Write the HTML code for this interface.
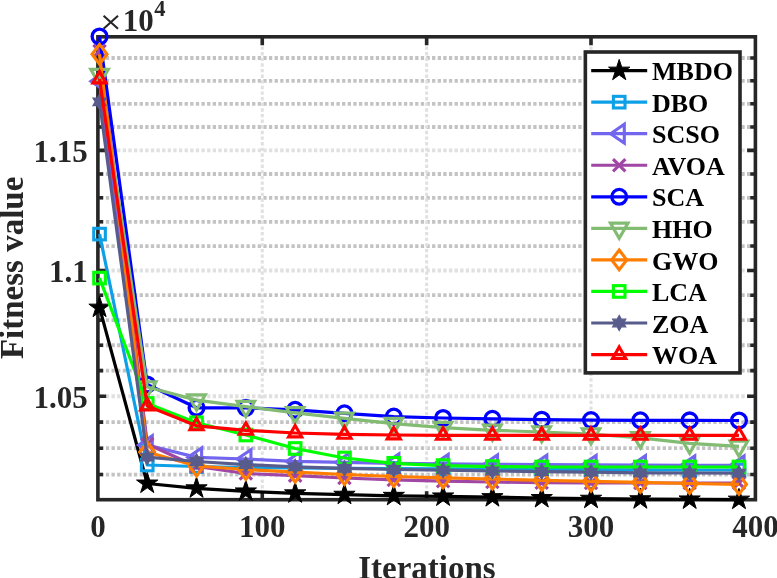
<!DOCTYPE html><html><head><meta charset="utf-8"><style>html,body{margin:0;padding:0;background:#fff;width:777px;height:578px;overflow:hidden}svg{display:block;filter:blur(0.4px)}text{font-family:"Liberation Serif",serif}</style></head><body>
<svg width="777" height="578" viewBox="0 0 777 578">
<rect width="777" height="578" fill="#fff"/>
<line x1="97.9" y1="474.56" x2="755.4" y2="474.56" stroke="#c3c3c3" stroke-width="3.8" stroke-dasharray="3.3 2.324" stroke-dashoffset="-2.34"/>
<line x1="97.9" y1="448.2" x2="755.4" y2="448.2" stroke="#c3c3c3" stroke-width="3.8" stroke-dasharray="3.3 2.324" stroke-dashoffset="-2.34"/>
<line x1="97.9" y1="422.09" x2="755.4" y2="422.09" stroke="#c3c3c3" stroke-width="3.8" stroke-dasharray="3.3 2.324" stroke-dashoffset="-2.34"/>
<line x1="97.9" y1="396.23" x2="755.4" y2="396.23" stroke="#e0e0e0" stroke-width="3.8" stroke-dasharray="3.3 2.324" stroke-dashoffset="-2.34"/>
<line x1="97.9" y1="370.61" x2="755.4" y2="370.61" stroke="#c3c3c3" stroke-width="3.8" stroke-dasharray="3.3 2.324" stroke-dashoffset="-2.34"/>
<line x1="97.9" y1="345.24" x2="755.4" y2="345.24" stroke="#c3c3c3" stroke-width="3.8" stroke-dasharray="3.3 2.324" stroke-dashoffset="-2.34"/>
<line x1="97.9" y1="320.1" x2="755.4" y2="320.1" stroke="#c3c3c3" stroke-width="3.8" stroke-dasharray="3.3 2.324" stroke-dashoffset="-2.34"/>
<line x1="97.9" y1="295.19" x2="755.4" y2="295.19" stroke="#c3c3c3" stroke-width="3.8" stroke-dasharray="3.3 2.324" stroke-dashoffset="-2.34"/>
<line x1="97.9" y1="270.51" x2="755.4" y2="270.51" stroke="#e0e0e0" stroke-width="3.8" stroke-dasharray="3.3 2.324" stroke-dashoffset="-2.34"/>
<line x1="97.9" y1="246.06" x2="755.4" y2="246.06" stroke="#c3c3c3" stroke-width="3.8" stroke-dasharray="3.3 2.324" stroke-dashoffset="-2.34"/>
<line x1="97.9" y1="221.82" x2="755.4" y2="221.82" stroke="#c3c3c3" stroke-width="3.8" stroke-dasharray="3.3 2.324" stroke-dashoffset="-2.34"/>
<line x1="97.9" y1="197.8" x2="755.4" y2="197.8" stroke="#c3c3c3" stroke-width="3.8" stroke-dasharray="3.3 2.324" stroke-dashoffset="-2.34"/>
<line x1="97.9" y1="173.99" x2="755.4" y2="173.99" stroke="#c3c3c3" stroke-width="3.8" stroke-dasharray="3.3 2.324" stroke-dashoffset="-2.34"/>
<line x1="97.9" y1="150.39" x2="755.4" y2="150.39" stroke="#e0e0e0" stroke-width="3.8" stroke-dasharray="3.3 2.324" stroke-dashoffset="-2.34"/>
<line x1="97.9" y1="126.99" x2="755.4" y2="126.99" stroke="#c3c3c3" stroke-width="3.8" stroke-dasharray="3.3 2.324" stroke-dashoffset="-2.34"/>
<line x1="97.9" y1="103.79" x2="755.4" y2="103.79" stroke="#c3c3c3" stroke-width="3.8" stroke-dasharray="3.3 2.324" stroke-dashoffset="-2.34"/>
<line x1="97.9" y1="80.79" x2="755.4" y2="80.79" stroke="#c3c3c3" stroke-width="3.8" stroke-dasharray="3.3 2.324" stroke-dashoffset="-2.34"/>
<line x1="97.9" y1="57.99" x2="755.4" y2="57.99" stroke="#c3c3c3" stroke-width="3.8" stroke-dasharray="3.3 2.324" stroke-dashoffset="-2.34"/>
<line x1="262.27" y1="499.7" x2="262.27" y2="36.8" stroke="#e0e0e0" stroke-width="3.0" stroke-dasharray="3.3 2.324"/>
<line x1="426.65" y1="499.7" x2="426.65" y2="36.8" stroke="#e0e0e0" stroke-width="3.0" stroke-dasharray="3.3 2.324"/>
<line x1="591.02" y1="499.7" x2="591.02" y2="36.8" stroke="#e0e0e0" stroke-width="3.0" stroke-dasharray="3.3 2.324"/>
<rect x="97.9" y="36.8" width="657.5" height="462.9" fill="none" stroke="#262626" stroke-width="3.6"/>
<path d="M262.27 499.7v-8.4M262.27 36.8v8.4M426.65 499.7v-8.4M426.65 36.8v8.4M591.02 499.7v-8.4M591.02 36.8v8.4M97.9 474.56h5.2M755.4 474.56h-5.2M97.9 448.2h5.2M755.4 448.2h-5.2M97.9 422.09h5.2M755.4 422.09h-5.2M97.9 396.23h8.3M755.4 396.23h-8.3M97.9 370.61h5.2M755.4 370.61h-5.2M97.9 345.24h5.2M755.4 345.24h-5.2M97.9 320.1h5.2M755.4 320.1h-5.2M97.9 295.19h5.2M755.4 295.19h-5.2M97.9 270.51h8.3M755.4 270.51h-8.3M97.9 246.06h5.2M755.4 246.06h-5.2M97.9 221.82h5.2M755.4 221.82h-5.2M97.9 197.8h5.2M755.4 197.8h-5.2M97.9 173.99h5.2M755.4 173.99h-5.2M97.9 150.39h8.3M755.4 150.39h-8.3M97.9 126.99h5.2M755.4 126.99h-5.2M97.9 103.79h5.2M755.4 103.79h-5.2M97.9 80.79h5.2M755.4 80.79h-5.2M97.9 57.99h5.2M755.4 57.99h-5.2" stroke="#262626" stroke-width="3.6" fill="none"/>
<polyline points="99.54,307.6 147.21,483.5 196.53,488.3 245.84,491.4 295.15,493.3 344.46,494.7 393.77,495.8 443.09,496.4 492.4,497.1 541.71,498 591.02,498.7 640.34,499.2 689.65,499.4 738.96,499.6" fill="none" stroke="#000000" stroke-width="3.2" stroke-linejoin="round"/>
<polygon points="99.54,296.4 102.06,304.14 110.2,304.14 103.61,308.92 106.13,316.66 99.54,311.88 92.96,316.66 95.47,308.92 88.89,304.14 97.03,304.14" fill="#000000" stroke="#000000" stroke-width="1" stroke-linejoin="miter"/>
<polygon points="147.21,472.3 149.73,480.04 157.86,480.04 151.28,484.82 153.8,492.56 147.21,487.78 140.63,492.56 143.14,484.82 136.56,480.04 144.7,480.04" fill="#000000" stroke="#000000" stroke-width="1" stroke-linejoin="miter"/>
<polygon points="196.53,477.1 199.04,484.84 207.18,484.84 200.59,489.62 203.11,497.36 196.53,492.58 189.94,497.36 192.46,489.62 185.87,484.84 194.01,484.84" fill="#000000" stroke="#000000" stroke-width="1" stroke-linejoin="miter"/>
<polygon points="245.84,480.2 248.35,487.94 256.49,487.94 249.91,492.72 252.42,500.46 245.84,495.68 239.25,500.46 241.77,492.72 235.19,487.94 243.32,487.94" fill="#000000" stroke="#000000" stroke-width="1" stroke-linejoin="miter"/>
<polygon points="295.15,482.1 297.66,489.84 305.8,489.84 299.22,494.62 301.73,502.36 295.15,497.58 288.57,502.36 291.08,494.62 284.5,489.84 292.64,489.84" fill="#000000" stroke="#000000" stroke-width="1" stroke-linejoin="miter"/>
<polygon points="344.46,483.5 346.98,491.24 355.11,491.24 348.53,496.02 351.05,503.76 344.46,498.98 337.88,503.76 340.39,496.02 333.81,491.24 341.95,491.24" fill="#000000" stroke="#000000" stroke-width="1" stroke-linejoin="miter"/>
<polygon points="393.77,484.6 396.29,492.34 404.43,492.34 397.84,497.12 400.36,504.86 393.77,500.08 387.19,504.86 389.71,497.12 383.12,492.34 391.26,492.34" fill="#000000" stroke="#000000" stroke-width="1" stroke-linejoin="miter"/>
<polygon points="443.09,485.2 445.6,492.94 453.74,492.94 447.16,497.72 449.67,505.46 443.09,500.68 436.5,505.46 439.02,497.72 432.44,492.94 440.57,492.94" fill="#000000" stroke="#000000" stroke-width="1" stroke-linejoin="miter"/>
<polygon points="492.4,485.9 494.91,493.64 503.05,493.64 496.47,498.42 498.98,506.16 492.4,501.38 485.82,506.16 488.33,498.42 481.75,493.64 489.89,493.64" fill="#000000" stroke="#000000" stroke-width="1" stroke-linejoin="miter"/>
<polygon points="541.71,486.8 544.23,494.54 552.36,494.54 545.78,499.32 548.3,507.06 541.71,502.28 535.13,507.06 537.64,499.32 531.06,494.54 539.2,494.54" fill="#000000" stroke="#000000" stroke-width="1" stroke-linejoin="miter"/>
<polygon points="591.02,487.5 593.54,495.24 601.68,495.24 595.09,500.02 597.61,507.76 591.02,502.98 584.44,507.76 586.96,500.02 580.37,495.24 588.51,495.24" fill="#000000" stroke="#000000" stroke-width="1" stroke-linejoin="miter"/>
<polygon points="640.34,488 642.85,495.74 650.99,495.74 644.41,500.52 646.92,508.26 640.34,503.48 633.75,508.26 636.27,500.52 629.69,495.74 637.82,495.74" fill="#000000" stroke="#000000" stroke-width="1" stroke-linejoin="miter"/>
<polygon points="689.65,488.2 692.16,495.94 700.3,495.94 693.72,500.72 696.23,508.46 689.65,503.68 683.07,508.46 685.58,500.72 679,495.94 687.14,495.94" fill="#000000" stroke="#000000" stroke-width="1" stroke-linejoin="miter"/>
<polygon points="738.96,488.4 741.48,496.14 749.61,496.14 743.03,500.92 745.55,508.66 738.96,503.88 732.38,508.66 734.89,500.92 728.31,496.14 736.45,496.14" fill="#000000" stroke="#000000" stroke-width="1" stroke-linejoin="miter"/>
<polyline points="99.54,234.1 147.21,465 196.53,466.5 245.84,467.5 295.15,468 344.46,468.3 393.77,468.5 443.09,468.8 492.4,469 541.71,469.3 591.02,469.6 640.34,469.8 689.65,470 738.96,470" fill="none" stroke="#0ea0e6" stroke-width="3.2" stroke-linejoin="round"/>
<rect x="93.74" y="228.3" width="11.6" height="11.6" fill="none" stroke="#0ea0e6" stroke-width="3.1"/>
<rect x="141.41" y="459.2" width="11.6" height="11.6" fill="none" stroke="#0ea0e6" stroke-width="3.1"/>
<rect x="190.72" y="460.7" width="11.6" height="11.6" fill="none" stroke="#0ea0e6" stroke-width="3.1"/>
<rect x="240.04" y="461.7" width="11.6" height="11.6" fill="none" stroke="#0ea0e6" stroke-width="3.1"/>
<rect x="289.35" y="462.2" width="11.6" height="11.6" fill="none" stroke="#0ea0e6" stroke-width="3.1"/>
<rect x="338.66" y="462.5" width="11.6" height="11.6" fill="none" stroke="#0ea0e6" stroke-width="3.1"/>
<rect x="387.97" y="462.7" width="11.6" height="11.6" fill="none" stroke="#0ea0e6" stroke-width="3.1"/>
<rect x="437.29" y="463" width="11.6" height="11.6" fill="none" stroke="#0ea0e6" stroke-width="3.1"/>
<rect x="486.6" y="463.2" width="11.6" height="11.6" fill="none" stroke="#0ea0e6" stroke-width="3.1"/>
<rect x="535.91" y="463.5" width="11.6" height="11.6" fill="none" stroke="#0ea0e6" stroke-width="3.1"/>
<rect x="585.23" y="463.8" width="11.6" height="11.6" fill="none" stroke="#0ea0e6" stroke-width="3.1"/>
<rect x="634.54" y="464" width="11.6" height="11.6" fill="none" stroke="#0ea0e6" stroke-width="3.1"/>
<rect x="683.85" y="464.2" width="11.6" height="11.6" fill="none" stroke="#0ea0e6" stroke-width="3.1"/>
<rect x="733.16" y="464.2" width="11.6" height="11.6" fill="none" stroke="#0ea0e6" stroke-width="3.1"/>
<polyline points="99.54,81.2 147.21,445 196.53,457.4 245.84,459 295.15,461.4 344.46,462.4 393.77,463.4 443.09,463.9 492.4,464.3 541.71,464.6 591.02,464.9 640.34,465.1 689.65,465.3 738.96,465.4" fill="none" stroke="#7366ee" stroke-width="3.2" stroke-linejoin="round"/>
<polygon points="90.94,81.2 104.64,71.8 104.64,90.6" fill="none" stroke="#7366ee" stroke-width="3.1" stroke-linejoin="miter"/>
<polygon points="138.61,445 152.31,435.6 152.31,454.4" fill="none" stroke="#7366ee" stroke-width="3.1" stroke-linejoin="miter"/>
<polygon points="187.93,457.4 201.62,448 201.62,466.8" fill="none" stroke="#7366ee" stroke-width="3.1" stroke-linejoin="miter"/>
<polygon points="237.24,459 250.94,449.6 250.94,468.4" fill="none" stroke="#7366ee" stroke-width="3.1" stroke-linejoin="miter"/>
<polygon points="286.55,461.4 300.25,452 300.25,470.8" fill="none" stroke="#7366ee" stroke-width="3.1" stroke-linejoin="miter"/>
<polygon points="335.86,462.4 349.56,453 349.56,471.8" fill="none" stroke="#7366ee" stroke-width="3.1" stroke-linejoin="miter"/>
<polygon points="385.17,463.4 398.88,454 398.88,472.8" fill="none" stroke="#7366ee" stroke-width="3.1" stroke-linejoin="miter"/>
<polygon points="434.49,463.9 448.19,454.5 448.19,473.3" fill="none" stroke="#7366ee" stroke-width="3.1" stroke-linejoin="miter"/>
<polygon points="483.8,464.3 497.5,454.9 497.5,473.7" fill="none" stroke="#7366ee" stroke-width="3.1" stroke-linejoin="miter"/>
<polygon points="533.11,464.6 546.81,455.2 546.81,474" fill="none" stroke="#7366ee" stroke-width="3.1" stroke-linejoin="miter"/>
<polygon points="582.42,464.9 596.12,455.5 596.12,474.3" fill="none" stroke="#7366ee" stroke-width="3.1" stroke-linejoin="miter"/>
<polygon points="631.74,465.1 645.44,455.7 645.44,474.5" fill="none" stroke="#7366ee" stroke-width="3.1" stroke-linejoin="miter"/>
<polygon points="681.05,465.3 694.75,455.9 694.75,474.7" fill="none" stroke="#7366ee" stroke-width="3.1" stroke-linejoin="miter"/>
<polygon points="730.36,465.4 744.06,456 744.06,474.8" fill="none" stroke="#7366ee" stroke-width="3.1" stroke-linejoin="miter"/>
<polyline points="99.54,51 147.21,444 196.53,466.5 245.84,473.5 295.15,475.6 344.46,478 393.77,479.9 443.09,481.2 492.4,482 541.71,482.7 591.02,483 640.34,483 689.65,483 738.96,483" fill="none" stroke="#a046a5" stroke-width="3.2" stroke-linejoin="round"/>
<path d="M94.44 45.9L104.64 56.1M94.44 56.1L104.64 45.9" stroke="#a046a5" stroke-width="3.1" stroke-linecap="square"/>
<path d="M142.11 438.9L152.31 449.1M142.11 449.1L152.31 438.9" stroke="#a046a5" stroke-width="3.1" stroke-linecap="square"/>
<path d="M191.43 461.4L201.62 471.6M191.43 471.6L201.62 461.4" stroke="#a046a5" stroke-width="3.1" stroke-linecap="square"/>
<path d="M240.74 468.4L250.94 478.6M240.74 478.6L250.94 468.4" stroke="#a046a5" stroke-width="3.1" stroke-linecap="square"/>
<path d="M290.05 470.5L300.25 480.7M290.05 480.7L300.25 470.5" stroke="#a046a5" stroke-width="3.1" stroke-linecap="square"/>
<path d="M339.36 472.9L349.56 483.1M339.36 483.1L349.56 472.9" stroke="#a046a5" stroke-width="3.1" stroke-linecap="square"/>
<path d="M388.67 474.8L398.88 485M388.67 485L398.88 474.8" stroke="#a046a5" stroke-width="3.1" stroke-linecap="square"/>
<path d="M437.99 476.1L448.19 486.3M437.99 486.3L448.19 476.1" stroke="#a046a5" stroke-width="3.1" stroke-linecap="square"/>
<path d="M487.3 476.9L497.5 487.1M487.3 487.1L497.5 476.9" stroke="#a046a5" stroke-width="3.1" stroke-linecap="square"/>
<path d="M536.61 477.6L546.81 487.8M536.61 487.8L546.81 477.6" stroke="#a046a5" stroke-width="3.1" stroke-linecap="square"/>
<path d="M585.92 477.9L596.12 488.1M585.92 488.1L596.12 477.9" stroke="#a046a5" stroke-width="3.1" stroke-linecap="square"/>
<path d="M635.24 477.9L645.44 488.1M635.24 488.1L645.44 477.9" stroke="#a046a5" stroke-width="3.1" stroke-linecap="square"/>
<path d="M684.55 477.9L694.75 488.1M684.55 488.1L694.75 477.9" stroke="#a046a5" stroke-width="3.1" stroke-linecap="square"/>
<path d="M733.86 477.9L744.06 488.1M733.86 488.1L744.06 477.9" stroke="#a046a5" stroke-width="3.1" stroke-linecap="square"/>
<polyline points="99.54,36.5 147.21,384.5 196.53,407.8 245.84,407.9 295.15,409.8 344.46,413.3 393.77,416.6 443.09,418 492.4,418.8 541.71,419.7 591.02,420.1 640.34,420.3 689.65,420.4 738.96,420.5" fill="none" stroke="#0000ff" stroke-width="3.2" stroke-linejoin="round"/>
<circle cx="99.54" cy="36.5" r="7.4" fill="none" stroke="#0000ff" stroke-width="3.3"/>
<circle cx="147.21" cy="384.5" r="7.4" fill="none" stroke="#0000ff" stroke-width="3.3"/>
<circle cx="196.53" cy="407.8" r="7.4" fill="none" stroke="#0000ff" stroke-width="3.3"/>
<circle cx="245.84" cy="407.9" r="7.4" fill="none" stroke="#0000ff" stroke-width="3.3"/>
<circle cx="295.15" cy="409.8" r="7.4" fill="none" stroke="#0000ff" stroke-width="3.3"/>
<circle cx="344.46" cy="413.3" r="7.4" fill="none" stroke="#0000ff" stroke-width="3.3"/>
<circle cx="393.77" cy="416.6" r="7.4" fill="none" stroke="#0000ff" stroke-width="3.3"/>
<circle cx="443.09" cy="418" r="7.4" fill="none" stroke="#0000ff" stroke-width="3.3"/>
<circle cx="492.4" cy="418.8" r="7.4" fill="none" stroke="#0000ff" stroke-width="3.3"/>
<circle cx="541.71" cy="419.7" r="7.4" fill="none" stroke="#0000ff" stroke-width="3.3"/>
<circle cx="591.02" cy="420.1" r="7.4" fill="none" stroke="#0000ff" stroke-width="3.3"/>
<circle cx="640.34" cy="420.3" r="7.4" fill="none" stroke="#0000ff" stroke-width="3.3"/>
<circle cx="689.65" cy="420.4" r="7.4" fill="none" stroke="#0000ff" stroke-width="3.3"/>
<circle cx="738.96" cy="420.5" r="7.4" fill="none" stroke="#0000ff" stroke-width="3.3"/>
<polyline points="99.54,74.6 147.21,387 196.53,400.1 245.84,406.6 295.15,412.8 344.46,418.3 393.77,423.6 443.09,427.6 492.4,430.3 541.71,432 591.02,434 640.34,437.8 689.65,443.3 738.96,446.3" fill="none" stroke="#82bb72" stroke-width="3.2" stroke-linejoin="round"/>
<polygon points="90.74,69.4 108.34,69.4 99.54,84.6" fill="none" stroke="#82bb72" stroke-width="3.1" stroke-linejoin="miter"/>
<polygon points="138.41,381.8 156.01,381.8 147.21,397" fill="none" stroke="#82bb72" stroke-width="3.1" stroke-linejoin="miter"/>
<polygon points="187.72,394.9 205.33,394.9 196.53,410.1" fill="none" stroke="#82bb72" stroke-width="3.1" stroke-linejoin="miter"/>
<polygon points="237.04,401.4 254.64,401.4 245.84,416.6" fill="none" stroke="#82bb72" stroke-width="3.1" stroke-linejoin="miter"/>
<polygon points="286.35,407.6 303.95,407.6 295.15,422.8" fill="none" stroke="#82bb72" stroke-width="3.1" stroke-linejoin="miter"/>
<polygon points="335.66,413.1 353.26,413.1 344.46,428.3" fill="none" stroke="#82bb72" stroke-width="3.1" stroke-linejoin="miter"/>
<polygon points="384.97,418.4 402.57,418.4 393.77,433.6" fill="none" stroke="#82bb72" stroke-width="3.1" stroke-linejoin="miter"/>
<polygon points="434.29,422.4 451.89,422.4 443.09,437.6" fill="none" stroke="#82bb72" stroke-width="3.1" stroke-linejoin="miter"/>
<polygon points="483.6,425.1 501.2,425.1 492.4,440.3" fill="none" stroke="#82bb72" stroke-width="3.1" stroke-linejoin="miter"/>
<polygon points="532.91,426.8 550.51,426.8 541.71,442" fill="none" stroke="#82bb72" stroke-width="3.1" stroke-linejoin="miter"/>
<polygon points="582.23,428.8 599.82,428.8 591.02,444" fill="none" stroke="#82bb72" stroke-width="3.1" stroke-linejoin="miter"/>
<polygon points="631.54,432.6 649.14,432.6 640.34,447.8" fill="none" stroke="#82bb72" stroke-width="3.1" stroke-linejoin="miter"/>
<polygon points="680.85,438.1 698.45,438.1 689.65,453.3" fill="none" stroke="#82bb72" stroke-width="3.1" stroke-linejoin="miter"/>
<polygon points="730.16,441.1 747.76,441.1 738.96,456.3" fill="none" stroke="#82bb72" stroke-width="3.1" stroke-linejoin="miter"/>
<polyline points="99.54,54.3 147.21,452 196.53,466 245.84,469.5 295.15,472.2 344.46,474.5 393.77,476.5 443.09,477.8 492.4,479 541.71,480.3 591.02,481.3 640.34,482.4 689.65,483.5 738.96,484.3" fill="none" stroke="#ff7d00" stroke-width="3.2" stroke-linejoin="round"/>
<polygon points="99.54,44.4 107.04,54.3 99.54,64.2 92.04,54.3" fill="none" stroke="#ff7d00" stroke-width="3.1" stroke-linejoin="miter"/>
<polygon points="147.21,442.1 154.71,452 147.21,461.9 139.71,452" fill="none" stroke="#ff7d00" stroke-width="3.1" stroke-linejoin="miter"/>
<polygon points="196.53,456.1 204.03,466 196.53,475.9 189.03,466" fill="none" stroke="#ff7d00" stroke-width="3.1" stroke-linejoin="miter"/>
<polygon points="245.84,459.6 253.34,469.5 245.84,479.4 238.34,469.5" fill="none" stroke="#ff7d00" stroke-width="3.1" stroke-linejoin="miter"/>
<polygon points="295.15,462.3 302.65,472.2 295.15,482.1 287.65,472.2" fill="none" stroke="#ff7d00" stroke-width="3.1" stroke-linejoin="miter"/>
<polygon points="344.46,464.6 351.96,474.5 344.46,484.4 336.96,474.5" fill="none" stroke="#ff7d00" stroke-width="3.1" stroke-linejoin="miter"/>
<polygon points="393.77,466.6 401.27,476.5 393.77,486.4 386.27,476.5" fill="none" stroke="#ff7d00" stroke-width="3.1" stroke-linejoin="miter"/>
<polygon points="443.09,467.9 450.59,477.8 443.09,487.7 435.59,477.8" fill="none" stroke="#ff7d00" stroke-width="3.1" stroke-linejoin="miter"/>
<polygon points="492.4,469.1 499.9,479 492.4,488.9 484.9,479" fill="none" stroke="#ff7d00" stroke-width="3.1" stroke-linejoin="miter"/>
<polygon points="541.71,470.4 549.21,480.3 541.71,490.2 534.21,480.3" fill="none" stroke="#ff7d00" stroke-width="3.1" stroke-linejoin="miter"/>
<polygon points="591.02,471.4 598.52,481.3 591.02,491.2 583.52,481.3" fill="none" stroke="#ff7d00" stroke-width="3.1" stroke-linejoin="miter"/>
<polygon points="640.34,472.5 647.84,482.4 640.34,492.3 632.84,482.4" fill="none" stroke="#ff7d00" stroke-width="3.1" stroke-linejoin="miter"/>
<polygon points="689.65,473.6 697.15,483.5 689.65,493.4 682.15,483.5" fill="none" stroke="#ff7d00" stroke-width="3.1" stroke-linejoin="miter"/>
<polygon points="738.96,474.4 746.46,484.3 738.96,494.2 731.46,484.3" fill="none" stroke="#ff7d00" stroke-width="3.1" stroke-linejoin="miter"/>
<polyline points="99.54,278.1 147.21,403.5 196.53,422.8 245.84,435 295.15,448.5 344.46,458 393.77,463.3 443.09,465.6 492.4,466.6 541.71,467 591.02,467 640.34,467 689.65,467 738.96,467" fill="none" stroke="#00ff00" stroke-width="3.2" stroke-linejoin="round"/>
<rect x="93.74" y="272.3" width="11.6" height="11.6" fill="none" stroke="#00ff00" stroke-width="3.1"/>
<rect x="141.41" y="397.7" width="11.6" height="11.6" fill="none" stroke="#00ff00" stroke-width="3.1"/>
<rect x="190.72" y="417" width="11.6" height="11.6" fill="none" stroke="#00ff00" stroke-width="3.1"/>
<rect x="240.04" y="429.2" width="11.6" height="11.6" fill="none" stroke="#00ff00" stroke-width="3.1"/>
<rect x="289.35" y="442.7" width="11.6" height="11.6" fill="none" stroke="#00ff00" stroke-width="3.1"/>
<rect x="338.66" y="452.2" width="11.6" height="11.6" fill="none" stroke="#00ff00" stroke-width="3.1"/>
<rect x="387.97" y="457.5" width="11.6" height="11.6" fill="none" stroke="#00ff00" stroke-width="3.1"/>
<rect x="437.29" y="459.8" width="11.6" height="11.6" fill="none" stroke="#00ff00" stroke-width="3.1"/>
<rect x="486.6" y="460.8" width="11.6" height="11.6" fill="none" stroke="#00ff00" stroke-width="3.1"/>
<rect x="535.91" y="461.2" width="11.6" height="11.6" fill="none" stroke="#00ff00" stroke-width="3.1"/>
<rect x="585.23" y="461.2" width="11.6" height="11.6" fill="none" stroke="#00ff00" stroke-width="3.1"/>
<rect x="634.54" y="461.2" width="11.6" height="11.6" fill="none" stroke="#00ff00" stroke-width="3.1"/>
<rect x="683.85" y="461.2" width="11.6" height="11.6" fill="none" stroke="#00ff00" stroke-width="3.1"/>
<rect x="733.16" y="461.2" width="11.6" height="11.6" fill="none" stroke="#00ff00" stroke-width="3.1"/>
<polyline points="99.54,101.8 147.21,457.2 196.53,461.5 245.84,464.6 295.15,466.8 344.46,468.4 393.77,469.5 443.09,470.2 492.4,471 541.71,471.6 591.02,472.2 640.34,472.8 689.65,473 738.96,473.1" fill="none" stroke="#585c8c" stroke-width="3.2" stroke-linejoin="round"/>
<polygon points="99.54,94.2 101.74,98 106.13,98 103.93,101.8 106.13,105.6 101.74,105.6 99.54,109.4 97.35,105.6 92.96,105.6 95.16,101.8 92.96,98 97.35,98" fill="#585c8c" stroke="#585c8c" stroke-width="1.2"/>
<polygon points="147.21,449.6 149.41,453.4 153.79,453.4 151.6,457.2 153.79,461 149.41,461 147.21,464.8 145.02,461 140.63,461 142.82,457.2 140.63,453.4 145.02,453.4" fill="#585c8c" stroke="#585c8c" stroke-width="1.2"/>
<polygon points="196.53,453.9 198.72,457.7 203.11,457.7 200.91,461.5 203.11,465.3 198.72,465.3 196.53,469.1 194.33,465.3 189.94,465.3 192.14,461.5 189.94,457.7 194.33,457.7" fill="#585c8c" stroke="#585c8c" stroke-width="1.2"/>
<polygon points="245.84,457 248.03,460.8 252.42,460.8 250.23,464.6 252.42,468.4 248.03,468.4 245.84,472.2 243.64,468.4 239.26,468.4 241.45,464.6 239.26,460.8 243.64,460.8" fill="#585c8c" stroke="#585c8c" stroke-width="1.2"/>
<polygon points="295.15,459.2 297.34,463 301.73,463 299.54,466.8 301.73,470.6 297.34,470.6 295.15,474.4 292.96,470.6 288.57,470.6 290.76,466.8 288.57,463 292.96,463" fill="#585c8c" stroke="#585c8c" stroke-width="1.2"/>
<polygon points="344.46,460.8 346.66,464.6 351.04,464.6 348.85,468.4 351.04,472.2 346.66,472.2 344.46,476 342.27,472.2 337.88,472.2 340.07,468.4 337.88,464.6 342.27,464.6" fill="#585c8c" stroke="#585c8c" stroke-width="1.2"/>
<polygon points="393.77,461.9 395.97,465.7 400.36,465.7 398.16,469.5 400.36,473.3 395.97,473.3 393.77,477.1 391.58,473.3 387.19,473.3 389.39,469.5 387.19,465.7 391.58,465.7" fill="#585c8c" stroke="#585c8c" stroke-width="1.2"/>
<polygon points="443.09,462.6 445.28,466.4 449.67,466.4 447.48,470.2 449.67,474 445.28,474 443.09,477.8 440.89,474 436.51,474 438.7,470.2 436.51,466.4 440.89,466.4" fill="#585c8c" stroke="#585c8c" stroke-width="1.2"/>
<polygon points="492.4,463.4 494.59,467.2 498.98,467.2 496.79,471 498.98,474.8 494.59,474.8 492.4,478.6 490.21,474.8 485.82,474.8 488.01,471 485.82,467.2 490.21,467.2" fill="#585c8c" stroke="#585c8c" stroke-width="1.2"/>
<polygon points="541.71,464 543.91,467.8 548.29,467.8 546.1,471.6 548.29,475.4 543.91,475.4 541.71,479.2 539.52,475.4 535.13,475.4 537.32,471.6 535.13,467.8 539.52,467.8" fill="#585c8c" stroke="#585c8c" stroke-width="1.2"/>
<polygon points="591.02,464.6 593.22,468.4 597.61,468.4 595.41,472.2 597.61,476 593.22,476 591.02,479.8 588.83,476 584.44,476 586.64,472.2 584.44,468.4 588.83,468.4" fill="#585c8c" stroke="#585c8c" stroke-width="1.2"/>
<polygon points="640.34,465.2 642.53,469 646.92,469 644.73,472.8 646.92,476.6 642.53,476.6 640.34,480.4 638.14,476.6 633.76,476.6 635.95,472.8 633.76,469 638.14,469" fill="#585c8c" stroke="#585c8c" stroke-width="1.2"/>
<polygon points="689.65,465.4 691.84,469.2 696.23,469.2 694.04,473 696.23,476.8 691.84,476.8 689.65,480.6 687.46,476.8 683.07,476.8 685.26,473 683.07,469.2 687.46,469.2" fill="#585c8c" stroke="#585c8c" stroke-width="1.2"/>
<polygon points="738.96,465.5 741.16,469.3 745.54,469.3 743.35,473.1 745.54,476.9 741.16,476.9 738.96,480.7 736.77,476.9 732.38,476.9 734.57,473.1 732.38,469.3 736.77,469.3" fill="#585c8c" stroke="#585c8c" stroke-width="1.2"/>
<polyline points="99.54,79 147.21,406 196.53,425.8 245.84,430.4 295.15,433 344.46,434.3 393.77,435 443.09,435.3 492.4,435.4 541.71,435.4 591.02,435.4 640.34,435.4 689.65,435.4 738.96,435.4" fill="none" stroke="#ff0000" stroke-width="3.2" stroke-linejoin="round"/>
<polygon points="99.54,71.4 106.14,82.9 92.94,82.9" fill="none" stroke="#ff0000" stroke-width="3.1" stroke-linejoin="miter"/>
<polygon points="147.21,398.4 153.81,409.9 140.61,409.9" fill="none" stroke="#ff0000" stroke-width="3.1" stroke-linejoin="miter"/>
<polygon points="196.53,418.2 203.12,429.7 189.93,429.7" fill="none" stroke="#ff0000" stroke-width="3.1" stroke-linejoin="miter"/>
<polygon points="245.84,422.8 252.44,434.3 239.24,434.3" fill="none" stroke="#ff0000" stroke-width="3.1" stroke-linejoin="miter"/>
<polygon points="295.15,425.4 301.75,436.9 288.55,436.9" fill="none" stroke="#ff0000" stroke-width="3.1" stroke-linejoin="miter"/>
<polygon points="344.46,426.7 351.06,438.2 337.86,438.2" fill="none" stroke="#ff0000" stroke-width="3.1" stroke-linejoin="miter"/>
<polygon points="393.77,427.4 400.38,438.9 387.17,438.9" fill="none" stroke="#ff0000" stroke-width="3.1" stroke-linejoin="miter"/>
<polygon points="443.09,427.7 449.69,439.2 436.49,439.2" fill="none" stroke="#ff0000" stroke-width="3.1" stroke-linejoin="miter"/>
<polygon points="492.4,427.8 499,439.3 485.8,439.3" fill="none" stroke="#ff0000" stroke-width="3.1" stroke-linejoin="miter"/>
<polygon points="541.71,427.8 548.31,439.3 535.11,439.3" fill="none" stroke="#ff0000" stroke-width="3.1" stroke-linejoin="miter"/>
<polygon points="591.02,427.8 597.62,439.3 584.42,439.3" fill="none" stroke="#ff0000" stroke-width="3.1" stroke-linejoin="miter"/>
<polygon points="640.34,427.8 646.94,439.3 633.74,439.3" fill="none" stroke="#ff0000" stroke-width="3.1" stroke-linejoin="miter"/>
<polygon points="689.65,427.8 696.25,439.3 683.05,439.3" fill="none" stroke="#ff0000" stroke-width="3.1" stroke-linejoin="miter"/>
<polygon points="738.96,427.8 745.56,439.3 732.36,439.3" fill="none" stroke="#ff0000" stroke-width="3.1" stroke-linejoin="miter"/>
<text x="87.8" y="407.73" font-size="31" font-weight="bold" fill="#262626" text-anchor="end">1.05</text>
<text x="87.8" y="282.01" font-size="31" font-weight="bold" fill="#262626" text-anchor="end">1.1</text>
<text x="87.8" y="161.89" font-size="31" font-weight="bold" fill="#262626" text-anchor="end">1.15</text>
<text x="97.9" y="537.4" font-size="31" font-weight="bold" fill="#262626" text-anchor="middle">0</text>
<text x="262.27" y="537.4" font-size="31" font-weight="bold" fill="#262626" text-anchor="middle">100</text>
<text x="426.65" y="537.4" font-size="31" font-weight="bold" fill="#262626" text-anchor="middle">200</text>
<text x="591.02" y="537.4" font-size="31" font-weight="bold" fill="#262626" text-anchor="middle">300</text>
<text x="755.4" y="537.4" font-size="31" font-weight="bold" fill="#262626" text-anchor="middle">400</text>
<path d="M103.6 15.8L118 28.8M118 15.8L103.6 28.8" stroke="#262626" stroke-width="2.1" fill="none"/>
<text x="122.8" y="30.6" font-size="31" font-weight="bold" fill="#262626">10</text>
<text x="154.3" y="16" font-size="22.5" font-weight="bold" fill="#262626">4</text>
<text x="426.9" y="578.9" font-size="33" font-weight="bold" fill="#262626" text-anchor="middle">Iterations</text>
<text transform="translate(22.6,267.9) rotate(-90)" x="0" y="0" font-size="33" font-weight="bold" fill="#262626" text-anchor="middle">Fitness value</text>
<rect x="585.35" y="52" width="154.65" height="320.9" fill="#fff" stroke="#262626" stroke-width="3.6"/>
<line x1="591.2" y1="70.6" x2="647.2" y2="70.6" stroke="#000000" stroke-width="3.2"/>
<polygon points="619.2,59.4 621.71,67.14 629.85,67.14 623.27,71.92 625.78,79.66 619.2,74.88 612.62,79.66 615.13,71.92 608.55,67.14 616.69,67.14" fill="#000000" stroke="#000000" stroke-width="1" stroke-linejoin="miter"/>
<text x="652" y="80.2" font-size="26" font-weight="bold" fill="#000">MBDO</text>
<line x1="591.2" y1="102.15" x2="647.2" y2="102.15" stroke="#0ea0e6" stroke-width="3.2"/>
<rect x="613.4" y="96.35" width="11.6" height="11.6" fill="none" stroke="#0ea0e6" stroke-width="3.1"/>
<text x="652" y="111.75" font-size="26" font-weight="bold" fill="#000">DBO</text>
<line x1="591.2" y1="133.7" x2="647.2" y2="133.7" stroke="#7366ee" stroke-width="3.2"/>
<polygon points="610.6,133.7 624.3,124.3 624.3,143.1" fill="none" stroke="#7366ee" stroke-width="3.1" stroke-linejoin="miter"/>
<text x="652" y="143.3" font-size="26" font-weight="bold" fill="#000">SCSO</text>
<line x1="591.2" y1="165.25" x2="647.2" y2="165.25" stroke="#a046a5" stroke-width="3.2"/>
<path d="M614.1 160.15L624.3 170.35M614.1 170.35L624.3 160.15" stroke="#a046a5" stroke-width="3.1" stroke-linecap="square"/>
<text x="652" y="174.85" font-size="26" font-weight="bold" fill="#000">AVOA</text>
<line x1="591.2" y1="196.8" x2="647.2" y2="196.8" stroke="#0000ff" stroke-width="3.2"/>
<circle cx="619.2" cy="196.8" r="7.4" fill="none" stroke="#0000ff" stroke-width="3.3"/>
<text x="652" y="206.4" font-size="26" font-weight="bold" fill="#000">SCA</text>
<line x1="591.2" y1="228.35" x2="647.2" y2="228.35" stroke="#82bb72" stroke-width="3.2"/>
<polygon points="610.4,223.15 628,223.15 619.2,238.35" fill="none" stroke="#82bb72" stroke-width="3.1" stroke-linejoin="miter"/>
<text x="652" y="237.95" font-size="26" font-weight="bold" fill="#000">HHO</text>
<line x1="591.2" y1="259.9" x2="647.2" y2="259.9" stroke="#ff7d00" stroke-width="3.2"/>
<polygon points="619.2,250 626.7,259.9 619.2,269.8 611.7,259.9" fill="none" stroke="#ff7d00" stroke-width="3.1" stroke-linejoin="miter"/>
<text x="652" y="269.5" font-size="26" font-weight="bold" fill="#000">GWO</text>
<line x1="591.2" y1="291.45" x2="647.2" y2="291.45" stroke="#00ff00" stroke-width="3.2"/>
<rect x="613.4" y="285.65" width="11.6" height="11.6" fill="none" stroke="#00ff00" stroke-width="3.1"/>
<text x="652" y="301.05" font-size="26" font-weight="bold" fill="#000">LCA</text>
<line x1="591.2" y1="323" x2="647.2" y2="323" stroke="#585c8c" stroke-width="3.2"/>
<polygon points="619.2,315.4 621.39,319.2 625.78,319.2 623.59,323 625.78,326.8 621.39,326.8 619.2,330.6 617.01,326.8 612.62,326.8 614.81,323 612.62,319.2 617.01,319.2" fill="#585c8c" stroke="#585c8c" stroke-width="1.2"/>
<text x="652" y="332.6" font-size="26" font-weight="bold" fill="#000">ZOA</text>
<line x1="591.2" y1="354.55" x2="647.2" y2="354.55" stroke="#ff0000" stroke-width="3.2"/>
<polygon points="619.2,346.95 625.8,358.45 612.6,358.45" fill="none" stroke="#ff0000" stroke-width="3.1" stroke-linejoin="miter"/>
<text x="652" y="364.15" font-size="26" font-weight="bold" fill="#000">WOA</text>
</svg></body></html>
